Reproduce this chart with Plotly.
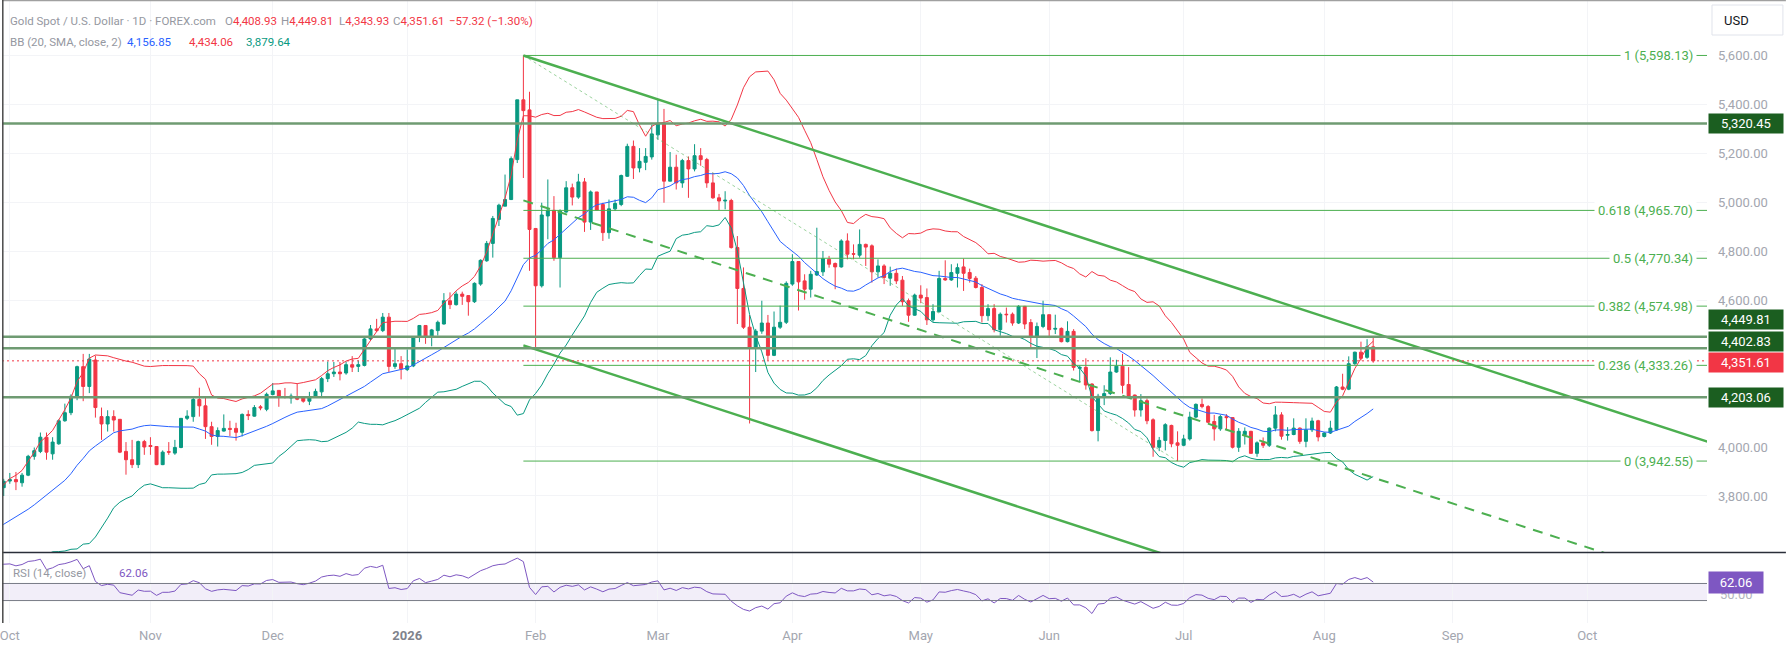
import pandas as pd
import plotly.graph_objects as go

W, H = 1786, 652
PLOT_W = 1707        # right edge of the drawing area, price scale to the right
MAIN_BOTTOM = 552    # bottom of the price pane (px from top)
RSI_TOP = 553
PANE_BOTTOM = 623    # bottom of the RSI pane, time scale below

UP = "#089981"
DOWN = "#f23645"
BLUE = "#2962ff"
FIB = "#4caf50"
LEVEL = "#6f9b72"
LEVEL_BOX = "#1b5e20"
RSI_COLOR = "#7e57c2"
TEXT = "#9598a1"
FONT = "Roboto"

# ---------------------------------------------------------------- data
HOLIDAYS = ["2025-12-25", "2026-01-01", "2026-04-03"]

# closes before the visible range, only used to warm up BB / RSI
warmup_close = [
    3336, 3336, 3332, 3315, 3348, 3339, 3372, 3365, 3393, 3397, 3416, 3448,
    3476, 3533, 3578, 3545, 3587, 3636, 3625, 3640, 3634, 3643, 3679, 3690,
    3660, 3644, 3685, 3746, 3763, 3736, 3749, 3760, 3833,
]

opens = [
    3834, 3861, 3867, 3854, 3885, 3962, 3982, 4040, 3972, 4013, 4107, 4140,
    4202, 4328, 4247, 4355, 4124, 4094, 4124, 4113, 3982, 3948, 3928, 4022,
    4006, 4002, 3928, 3981, 3975, 3998, 4117, 4124, 4194, 4168, 4083, 4043,
    4065, 4076, 4076, 4060, 4133, 4126, 4164, 4154, 4214, 4231, 4206, 4200,
    4204, 4200, 4187, 4204, 4225, 4279, 4299, 4306, 4302, 4336, 4329, 4333,
    4441, 4482, 4475, 4530, 4329, 4340, 4316, 4331, 4451, 4496, 4451, 4475,
    4502, 4597, 4581, 4624, 4618, 4593, 4665, 4760, 4831, 4929, 4983, 5010,
    5173, 5417, 5376, 4892, 4658, 4943, 4966, 4773, 4959, 5058, 5020, 5082,
    4918, 5041, 4990, 4875, 4972, 4990, 5105, 5227, 5139, 5162, 5184, 5274,
    5322, 5085, 5142, 5078, 5169, 5135, 5189, 5173, 5078, 5017, 5004, 5006,
    4814, 4647, 4489, 4404, 4473, 4506, 4374, 4489, 4509, 4665, 4757, 4678,
    4644, 4702, 4715, 4766, 4749, 4735, 4841, 4789, 4783, 4827, 4821, 4715,
    4739, 4689, 4709, 4681, 4597, 4538, 4620, 4610, 4519, 4552, 4688, 4682,
    4709, 4735, 4712, 4689, 4651, 4536, 4565, 4479, 4542, 4542, 4506, 4574,
    4508, 4447, 4492, 4540, 4481, 4484, 4430, 4472, 4321, 4325, 4257, 4067,
    4208, 4218, 4306, 4330, 4255, 4212, 4151, 4189, 4111, 3999, 4027, 4088,
    4017, 4007, 4033, 4122, 4174, 4165, 4104, 4074, 4124, 4120, 3999, 4050,
    4064, 3974, 4017, 4007, 4077, 4131, 4048, 4051, 4077, 4023, 4070, 4107,
    4043, 4057, 4070, 4245, 4236, 4340, 4387, 4366, 4408.93,
]
highs = [
    3870, 3894, 3898, 3894, 3968, 3998, 4059, 4059, 4040, 4113, 4177, 4215,
    4332, 4380, 4380, 4373, 4161, 4150, 4150, 4113, 4020, 4029, 4026, 4029,
    4040, 4002, 3986, 4020, 4029, 4117, 4150, 4208, 4242, 4208, 4103, 4080,
    4133, 4107, 4099, 4137, 4150, 4171, 4171, 4222, 4261, 4231, 4241, 4218,
    4259, 4204, 4225, 4238, 4286, 4349, 4347, 4347, 4349, 4371, 4353, 4446,
    4498, 4523, 4547, 4547, 4408, 4371, 4398, 4451, 4498, 4496, 4482, 4516,
    4628, 4631, 4635, 4634, 4620, 4672, 4766, 4841, 4943, 4993, 5112, 5186,
    5417, 5598.13, 5450, 4892, 4997, 5092, 5024, 4970, 5085, 5075, 5115, 5098,
    5047, 5041, 4997, 5010, 5010, 5112, 5238, 5251, 5220, 5220, 5315, 5417,
    5380, 5204, 5193, 5176, 5186, 5236, 5220, 5180, 5119, 5033, 5044, 5013,
    4861, 4733, 4539, 4482, 4597, 4539, 4553, 4577, 4676, 4787, 4757, 4705,
    4719, 4895, 4800, 4780, 4753, 4848, 4872, 4827, 4888, 4830, 4827, 4766,
    4746, 4736, 4728, 4698, 4606, 4626, 4660, 4647, 4583, 4719, 4762, 4746,
    4749, 4769, 4728, 4698, 4665, 4583, 4583, 4549, 4569, 4549, 4579, 4576,
    4522, 4508, 4597, 4540, 4540, 4488, 4513, 4481, 4332, 4362, 4260, 4217,
    4252, 4366, 4356, 4380, 4326, 4214, 4216, 4198, 4117, 4041, 4097, 4091,
    4064, 4050, 4144, 4178, 4198, 4171, 4131, 4131, 4134, 4121, 4077, 4080,
    4066, 4023, 4039, 4080, 4167, 4142, 4081, 4117, 4080, 4117, 4120, 4111,
    4061, 4107, 4249, 4299, 4370, 4389, 4430, 4440, 4449.81,
]
lows = [
    3800, 3850, 3824, 3838, 3881, 3948, 3975, 3948, 3948, 4009, 4103, 4130,
    4191, 4187, 4220, 4120, 4029, 4063, 4063, 3975, 3887, 3914, 3914, 3968,
    3968, 3926, 3926, 3968, 3968, 3995, 4110, 4103, 4124, 4033, 4009, 4002,
    4063, 4045, 4026, 4043, 4110, 4124, 4150, 4146, 4211, 4164, 4198, 4177,
    4191, 4181, 4171, 4200, 4200, 4265, 4286, 4272, 4295, 4306, 4306, 4329,
    4435, 4469, 4469, 4306, 4319, 4276, 4310, 4326, 4428, 4421, 4411, 4455,
    4500, 4563, 4577, 4580, 4536, 4588, 4658, 4756, 4773, 4902, 4983, 5008,
    5159, 5098, 4719, 4404, 4651, 4848, 4760, 4651, 4956, 4986, 5013, 4878,
    4886, 4966, 4841, 4850, 4963, 4983, 5102, 5094, 5121, 5130, 5173, 5254,
    4997, 5085, 5051, 5058, 5017, 5125, 5148, 5058, 5013, 4967, 4970, 4810,
    4502, 4482, 4096, 4306, 4462, 4353, 4371, 4482, 4502, 4658, 4557, 4601,
    4610, 4698, 4698, 4732, 4644, 4732, 4766, 4766, 4773, 4739, 4671, 4692,
    4665, 4658, 4665, 4576, 4511, 4536, 4587, 4498, 4511, 4549, 4678, 4678,
    4651, 4637, 4671, 4647, 4508, 4515, 4468, 4454, 4508, 4495, 4502, 4481,
    4403, 4363, 4485, 4450, 4461, 4427, 4427, 4312, 4267, 4234, 4063, 4023,
    4171, 4212, 4303, 4218, 4202, 4124, 4124, 4093, 3960, 3983, 3986, 3999,
    3942.55, 4003, 4026, 4117, 4158, 4097, 4026, 4066, 4070, 3994, 3980, 4010,
    3974, 3960, 3996, 4000, 4064, 4030, 4026, 4048, 4013, 3999, 4061, 4023,
    4039, 4053, 4066, 4232, 4232, 4335, 4353, 4360, 4343.93,
]
closes = [
    3860, 3867, 3858, 3885, 3962, 3985, 4040, 3979, 4020, 4107, 4140, 4207,
    4328, 4247, 4359, 4161, 4094, 4124, 4110, 3979, 3948, 3928, 4022, 4000,
    4002, 3928, 3979, 3979, 3998, 4117, 4126, 4194, 4168, 4083, 4043, 4067,
    4076, 4072, 4060, 4133, 4128, 4161, 4160, 4215, 4229, 4204, 4204, 4208,
    4195, 4187, 4204, 4227, 4279, 4299, 4306, 4299, 4336, 4326, 4336, 4441,
    4482, 4475, 4530, 4329, 4340, 4319, 4331, 4451, 4496, 4451, 4478, 4509,
    4597, 4581, 4624, 4615, 4593, 4668, 4762, 4831, 4933, 4987, 5010, 5177,
    5417, 5373, 4888, 4658, 4947, 4967, 4773, 4963, 5058, 5020, 5082, 4918,
    5041, 4967, 4875, 4972, 4994, 5108, 5227, 5139, 5166, 5186, 5278, 5322,
    5085, 5142, 5078, 5169, 5135, 5189, 5173, 5078, 5017, 5004, 5007, 4814,
    4647, 4489, 4404, 4473, 4506, 4374, 4489, 4509, 4668, 4757, 4674, 4644,
    4705, 4716, 4769, 4746, 4735, 4841, 4787, 4787, 4827, 4816, 4715, 4739,
    4692, 4709, 4678, 4593, 4538, 4620, 4608, 4519, 4553, 4688, 4682, 4712,
    4732, 4709, 4688, 4651, 4536, 4565, 4479, 4542, 4540, 4506, 4574, 4502,
    4447, 4492, 4540, 4479, 4484, 4430, 4472, 4325, 4325, 4253, 4067, 4207,
    4218, 4306, 4330, 4252, 4205, 4151, 4189, 4107, 3999, 4027, 4091, 4013,
    4007, 4033, 4122, 4174, 4165, 4101, 4074, 4124, 4120, 3999, 4064, 4064,
    3974, 4017, 4007, 4077, 4131, 4044, 4051, 4077, 4023, 4070, 4106, 4041,
    4057, 4077, 4245, 4236, 4340, 4387, 4362, 4409, 4351.61,
]

# 4,200 and 4,400 sit under the level labels on the scale, so they are left out
PRICE_TICKS = [3800, 4000, 4600, 4800, 5000, 5200, 5400, 5600]
MONTH_TICKS = ["2025-10-01", "2025-11-03", "2025-12-01", "2026-01-02",
               "2026-02-02", "2026-03-02", "2026-04-01", "2026-05-01",
               "2026-06-01", "2026-07-01", "2026-08-03", "2026-09-01",
               "2026-10-01"]
MONTH_LABELS = ["Oct", "Nov", "Dec", "<span style='color:#80838c'><b>2026</b></span>",
                "Feb", "Mar", "Apr", "May", "Jun", "Jul", "Aug", "Sep", "Oct"]

LEVELS = [5320.45, 4449.81, 4402.83, 4203.06]
FIB_RATIOS = ["1", "0.618", "0.5", "0.382", "0.236", "0"]
FIB_PRICES = [5598.13, 4965.70, 4770.34, 4574.98, 4333.26, 3942.55]
LAST_PRICE = 4351.61
LAST_RSI = "62.06"

CHANNEL_DATES = ["2026-01-29", "2026-10-30"]
CHANNEL_UPPER = [5598.13, 4011.0]
CHANNEL_MID = [5006.6, 3419.5]
CHANNEL_LOWER = [4415.0, 2828.0]
DIAG_DATES = ["2026-01-29", "2026-06-30"]
DIAG_PRICES = [5598.13, 3942.55]
FIB_START = "2026-01-29"
FAR_RIGHT = "2026-11-30"

RSI_BANDS = [60, 40]

# ---------------------------------------------------------------- series
dates = [d for d in pd.bdate_range("2025-09-30", "2026-08-13")
         if d.strftime("%Y-%m-%d") not in HOLIDAYS]
warm_dates = list(pd.bdate_range("2025-08-14", "2025-09-29"))
all_dates = warm_dates + dates
all_close = pd.Series(warmup_close + closes, dtype=float)

basis = all_close.rolling(20).mean()
dev = all_close.rolling(20).std(ddof=0)
bb_up = basis + 2 * dev
bb_lo = basis - 2 * dev

delta = all_close.diff()
gain = delta.clip(lower=0).ewm(alpha=1 / 14, adjust=False).mean()
loss = (-delta.clip(upper=0)).ewm(alpha=1 / 14, adjust=False).mean()
rsi = 100 - 100 / (1 + gain / loss)


def px(x):
    return x / PLOT_W


def py(y):
    return (PANE_BOTTOM - y) / PANE_BOTTOM


fig = go.Figure()

fig.add_trace(go.Candlestick(
    x=dates, open=opens, high=highs, low=lows, close=closes,
    increasing=dict(line=dict(color=UP, width=1), fillcolor=UP),
    decreasing=dict(line=dict(color=DOWN, width=1), fillcolor=DOWN),
    whiskerwidth=0, showlegend=False, hoverinfo="skip",
))

for series, color in [(bb_up, DOWN), (basis, BLUE), (bb_lo, UP)]:
    fig.add_trace(go.Scatter(x=all_dates, y=series, mode="lines",
                             line=dict(color=color, width=1),
                             showlegend=False, hoverinfo="skip"))

# fib retracement levels
for price in FIB_PRICES:
    fig.add_trace(go.Scatter(x=[FIB_START, FAR_RIGHT], y=[price, price],
                             mode="lines", line=dict(color=FIB, width=1),
                             showlegend=False, hoverinfo="skip"))
fig.add_trace(go.Scatter(x=DIAG_DATES, y=DIAG_PRICES, mode="lines",
                         line=dict(color="rgba(76,175,80,0.55)", width=1, dash="dot"),
                         showlegend=False, hoverinfo="skip"))

# descending channel
for ys, dash, width in [(CHANNEL_UPPER, "solid", 2.5), (CHANNEL_LOWER, "solid", 2.5),
                        (CHANNEL_MID, "10px,8px", 2)]:
    fig.add_trace(go.Scatter(x=CHANNEL_DATES, y=ys, mode="lines",
                             line=dict(color=FIB, width=width, dash=dash),
                             showlegend=False, hoverinfo="skip"))

# RSI pane
fig.add_trace(go.Scatter(x=all_dates, y=rsi, mode="lines", xaxis="x2", yaxis="y2",
                         line=dict(color=RSI_COLOR, width=1),
                         showlegend=False, hoverinfo="skip"))

shapes = []
for lvl in LEVELS:
    shapes.append(dict(type="line", xref="paper", yref="y", x0=0, x1=1, y0=lvl, y1=lvl,
                       line=dict(color=LEVEL, width=2.5)))
shapes.append(dict(type="line", xref="paper", yref="y", x0=0, x1=1,
                   y0=LAST_PRICE, y1=LAST_PRICE,
                   line=dict(color=DOWN, width=1, dash="2px,3px")))
shapes.append(dict(type="rect", xref="paper", yref="y2", x0=0, x1=1,
                   y0=RSI_BANDS[1], y1=RSI_BANDS[0], line=dict(width=0),
                   fillcolor="rgba(126,87,194,0.1)", layer="below"))
for b in RSI_BANDS:
    shapes.append(dict(type="line", xref="paper", yref="y2", x0=0, x1=1, y0=b, y1=b,
                       line=dict(color="#787b86", width=1)))
# pane separator and frame
shapes.append(dict(type="line", xref="paper", yref="paper", x0=0, x1=W / PLOT_W,
                   y0=py(552.5), y1=py(552.5), line=dict(color="#2a2e39", width=1.5)))
shapes.append(dict(type="line", xref="paper", yref="paper", x0=0, x1=W / PLOT_W,
                   y0=py(0.5), y1=py(0.5), line=dict(color="#a0a0a0", width=1.5)))
shapes.append(dict(type="line", xref="paper", yref="paper", x0=px(0.8), x1=px(0.8),
                   y0=0, y1=1, line=dict(color="#4a4a4a", width=1.5)))
shapes.append(dict(type="rect", xref="paper", yref="paper", x0=px(1712), x1=px(1783),
                   y0=py(35), y1=py(5), line=dict(color="#e0e3eb", width=1),
                   fillcolor="white"))

ann = []


def text(x, y, s, color=TEXT, size=11.5, anchor="left", **kw):
    ann.append(dict(xref="paper", yref="paper", x=px(x), y=py(y), text=s,
                    showarrow=False, xanchor=anchor, yanchor="middle",
                    font=dict(family=FONT, size=size, color=color), **kw))


text(6, 21, "Gold Spot / U.S. Dollar · 1D · FOREX.com")
text(221, 21, f"O<span style='color:{DOWN}'>4,408.93</span>")
text(277, 21, f"H<span style='color:{DOWN}'>4,449.81</span>")
text(335, 21, f"L<span style='color:{DOWN}'>4,343.93</span>")
text(389, 21, f"C<span style='color:{DOWN}'>4,351.61</span>")
text(446, 21, "−57.32 (−1.30%)", color=DOWN)
text(6, 42, "BB (20, SMA, close, 2)")
text(123, 42, "4,156.85", color=BLUE)
text(185, 42, "4,434.06", color=DOWN)
text(242, 42, "3,879.64", color=UP)
text(9, 573, "RSI (14, close)")
text(115, 573, LAST_RSI, color=RSI_COLOR)
text(1737, 21, "USD", color="#131722", size=13, anchor="center")

for ratio, price in zip(FIB_RATIOS, FIB_PRICES):
    ann.append(dict(xref="paper", yref="y", x=px(1697), y=price,
                    text=f"{ratio} ({price:,.2f})", showarrow=False,
                    xanchor="right", yanchor="middle", bgcolor="white", borderpad=3,
                    font=dict(family=FONT, size=13, color=FIB)))

# price scale labels (TradingView nudges crowded ones apart)
label_shift = [0, 17, 7, 0]
for lvl, shift in zip(LEVELS, label_shift):
    ann.append(dict(xref="paper", yref="y", x=px(1708), y=lvl, yshift=shift,
                    text=f"{lvl:,.2f}", showarrow=False, xanchor="left",
                    yanchor="middle", bgcolor=LEVEL_BOX, width=70, height=15,
                    borderpad=2, font=dict(family=FONT, size=13, color="white")))
ann.append(dict(xref="paper", yref="y", x=px(1708), y=LAST_PRICE, yshift=-2,
                text=f"{LAST_PRICE:,.2f}", showarrow=False, xanchor="left",
                yanchor="middle", bgcolor=DOWN, width=70, height=15, borderpad=2,
                font=dict(family=FONT, size=13, color="white")))
text(1718, 594, "50.00", color="#b2b5be", size=13)
ann.append(dict(xref="paper", yref="paper", x=px(1708), y=py(582.5),
                text=LAST_RSI, showarrow=False, xanchor="left",
                yanchor="middle", bgcolor=RSI_COLOR, width=50, height=17, borderpad=2,
                font=dict(family=FONT, size=13, color="white")))

rangebreaks = [dict(bounds=["sat", "mon"]), dict(values=HOLIDAYS)]
x_range = ["2025-09-29 17:17", "2026-10-28 14:24"]

fig.update_layout(
    width=W, height=H,
    margin=dict(l=0, r=W - PLOT_W, t=0, b=H - PANE_BOTTOM),
    paper_bgcolor="white", plot_bgcolor="white",
    showlegend=False, hovermode=False,
    shapes=shapes, annotations=ann,
    xaxis=dict(type="date", range=x_range, rangebreaks=rangebreaks,
               rangeslider=dict(visible=False), anchor="y",
               tickvals=MONTH_TICKS, showticklabels=False,
               showgrid=True, gridcolor="#f3f4f7", zeroline=False, showline=False),
    xaxis2=dict(type="date", range=x_range, rangebreaks=rangebreaks, matches="x",
                anchor="y2", tickvals=MONTH_TICKS, ticktext=MONTH_LABELS,
                ticks="", ticklabelstandoff=3, ticklabeloverflow="allow",
                tickfont=dict(family=FONT, size=13, color="#a3a6af"),
                showgrid=True, gridcolor="#f3f4f7", zeroline=False, showline=False),
    yaxis=dict(domain=[py(MAIN_BOTTOM), 1], range=[3571.4, 5824.5], side="right",
               tickvals=PRICE_TICKS, tickformat=",.2f", ticks="",
               ticklabelstandoff=10,
               tickfont=dict(family=FONT, size=13, color="#a3a6af"),
               showgrid=True, gridcolor="#f3f4f7", zeroline=False, showline=False),
    yaxis2=dict(domain=[0, py(RSI_TOP)], range=[13.7, 95.7], side="right",
                showticklabels=False, showgrid=False, zeroline=False, showline=False),
)

# the page's default body margin would push the figure 8px off the window
fig.write_html("out.html", config={"displayModeBar": False},
               post_script="document.body.style.margin='0';")
